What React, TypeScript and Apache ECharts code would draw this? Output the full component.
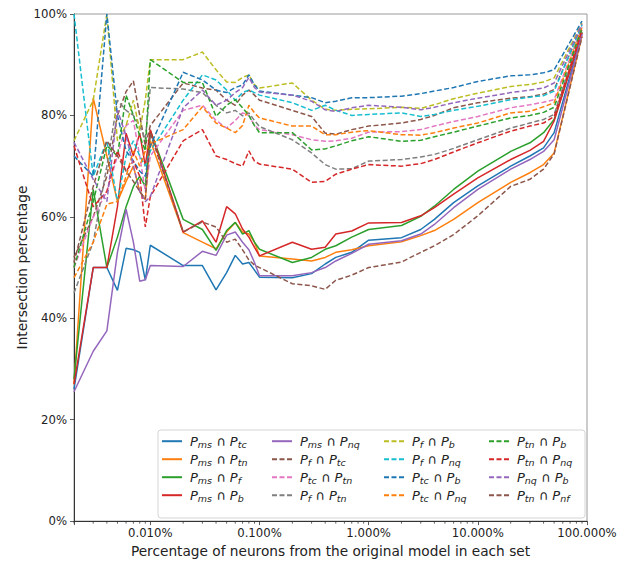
import React, { useEffect, useRef } from 'react';
import * as echarts from 'echarts';

// x positions (percent of neurons)
const X = [0.002, 0.003, 0.004, 0.005, 0.006, 0.007, 0.008, 0.009, 0.01, 0.02, 0.03, 0.04, 0.05, 0.06, 0.07, 0.08, 0.09, 0.1, 0.2, 0.3, 0.4, 0.5, 0.7, 1, 2, 3, 4, 6, 10, 20, 30, 40, 50, 90];

const MS_TC = [26, 50, 50, 45.5, 53.8, 53.5, 53, 47.5, 54.4, 50.4, 50.4, 45.6, 49, 52.4, 50.7, 51, 49.5, 48.1, 48, 48.8, 50.7, 52, 53, 55.4, 55.9, 57.5, 59.5, 62.8, 66.1, 70, 72, 73.6, 76.6, 96.2];
const MS_TN = [27, 83.4, 72, 63, 67, 70, 65, 63.4, 75, 56.9, 55, 53.7, 57, 58.9, 57, 56.6, 55, 52.3, 51.7, 51.3, 52, 53, 53.5, 54.3, 55.1, 56.3, 57.3, 59.5, 62.8, 66.8, 68.7, 70.3, 72.6, 95.7];
const MS_F = [28, 65.4, 50, 56, 62, 66, 68, 66, 77, 59.5, 57.5, 53.4, 57.3, 58.9, 56.6, 57.3, 55, 53.6, 51, 52, 53.6, 54.3, 56, 57.5, 58.3, 60.1, 62.1, 65.4, 69, 72.9, 74.6, 76.6, 79.2, 96.5];
const MS_B = [27, 50, 50, 62, 76.5, 72, 76.5, 70, 77.2, 57, 59.2, 55, 62, 60.6, 57.6, 56, 54, 52.3, 55, 53.6, 54, 56.6, 57.2, 58.8, 58.9, 60.2, 61.8, 64.5, 67.7, 71.3, 73.1, 74.9, 78.9, 96.3];
const MS_NQ = [25.5, 33.5, 37.5, 53, 61.5, 55, 47.3, 47.6, 50.4, 50.2, 53.2, 52.4, 56.4, 57, 55, 53.5, 51, 48.4, 48.4, 49, 50, 51.3, 52.8, 54.6, 55.3, 56.6, 58.5, 61.8, 65.4, 69.4, 71.3, 72.9, 75.2, 96];
const F_TC = [52, 60, 68, 80, 84.7, 86.8, 80, 74, 78, 86.4, 85.4, 85, 83, 82, 84, 85, 84, 83, 81, 79.8, 76.5, 76.3, 77.2, 77.9, 78.5, 79.2, 80, 81.5, 82.5, 83.4, 83.7, 84.2, 85.1, 97.6];
const TC_TN = [50, 60, 65, 72, 78, 79, 72, 65, 72, 81, 82, 79, 77.5, 79, 80.5, 80, 78, 77.2, 76.2, 75.2, 74.9, 75, 75.5, 76.7, 76.8, 77.2, 77.9, 78.8, 79.8, 81.5, 82.1, 82.6, 83.1, 97.5];
const F_TN = [45, 55, 70, 83, 81, 80, 78, 75.3, 85.5, 85.2, 84.5, 82, 80.5, 81, 79.9, 80.5, 79, 77.8, 75.2, 72.6, 70.3, 69.4, 69.5, 71, 71.3, 71.8, 72.3, 73.5, 75.2, 77.5, 78.5, 79.2, 80.2, 97];
const F_B = [75, 83, 100, 75, 78, 83, 77, 83, 91, 91, 92.5, 89, 86.6, 86.5, 87.5, 88, 86, 85.4, 86.4, 83, 81.2, 81, 81.2, 81.3, 81.6, 81.4, 82.1, 83.3, 84.4, 85.7, 86.1, 86.6, 87.4, 98.2];
const F_NQ = [100, 68, 75, 63, 72, 75, 72, 70, 73, 83, 88, 87, 85, 83, 84.5, 85, 84.5, 84, 82.5, 81, 82, 81, 80, 80.2, 80.5, 79.8, 80.2, 81, 81.8, 83.1, 83.6, 83.9, 84.8, 97.9];
const TC_B = [72, 68, 100, 80, 73, 71, 69, 68, 74, 88.5, 87, 85, 84.5, 85.5, 86, 88, 86, 84.8, 84, 83.5, 82.5, 82.8, 83.5, 83.5, 83.8, 84.3, 84.8, 85.5, 86.7, 87.8, 88, 88.4, 89, 98.6];
const TC_NQ = [48, 55, 62.5, 63, 68, 73, 70, 73, 74.4, 77.2, 81.7, 78.5, 77.5, 76.6, 78, 82, 80.5, 79.5, 77.9, 77.9, 76.2, 76.2, 76.7, 77, 76.2, 76.1, 76.6, 77.5, 78.5, 80.5, 80.8, 81.7, 82.5, 97.3];
const TN_B = [50, 63, 74, 72, 84, 80, 76, 73, 91, 86.5, 86.5, 79.8, 82, 83.1, 81.5, 80, 78, 76.6, 76.6, 73.2, 73.4, 74, 75, 75.8, 74.9, 75.1, 75.8, 76.7, 77.9, 79.5, 80, 80.6, 81.6, 97.2];
const TN_NQ = [74, 62, 65, 73, 69, 71, 68, 58, 64, 75, 77.2, 72, 71.3, 70.5, 70, 73, 71, 70.4, 69.4, 66.8, 67, 68.4, 69.4, 70.3, 70, 70.5, 71.3, 72.8, 74.6, 76.9, 77.9, 78.5, 79.8, 96.8];
const NQ_B = [74.7, 67.4, 63, 81, 76, 70, 65, 63, 64, 81.5, 85, 82, 83, 84.5, 85.5, 87.5, 85.5, 84.6, 84, 82.8, 81.1, 80.8, 81.5, 82, 81.6, 81.1, 81.6, 82.5, 83.4, 84.5, 85, 85.4, 86.4, 98];
const TN_NF = [51, 66, 75, 72, 69, 67, 65, 63.5, 76.5, 57, 59, 58, 55, 55.6, 53.5, 51.5, 50.5, 50, 46.8, 46.4, 45.7, 47.5, 48.5, 50, 51.1, 53, 54.3, 56.5, 60.2, 66, 67.4, 69.4, 72.4, 95.5];

const SUB_A = ['ms', 'ms', 'ms', 'ms', 'ms', 'f', 'tc', 'f', 'f', 'f', 'tc', 'tc', 'tn', 'tn', 'nq', 'tn'];
const SUB_B = ['tc', 'tn', 'f', 'b', 'nq', 'tc', 'tn', 'tn', 'b', 'nq', 'b', 'nq', 'b', 'nq', 'b', 'nf'];
const VALUES = [MS_TC, MS_TN, MS_F, MS_B, MS_NQ, F_TC, TC_TN, F_TN, F_B, F_NQ, TC_B, TC_NQ, TN_B, TN_NQ, NQ_B, TN_NF];
const COLORS = ['#1f77b4', '#ff7f0e', '#2ca02c', '#d62728', '#9467bd', '#8c564b', '#e377c2', '#7f7f7f', '#bcbd22', '#17becf', '#1f77b4', '#ff7f0e', '#2ca02c', '#d62728', '#9467bd', '#8c564b'];
const DASHED = [false, false, false, false, false, true, true, true, true, true, true, true, true, true, true, true];

const NAMES = SUB_A.map((a, i) => `P${a} ∩ P${SUB_B[i]}`);

const FONT = 'DejaVu Sans';

export default function App() {
  const ref = useRef<HTMLDivElement>(null);
  useEffect(() => {
    const chart = echarts.init(ref.current!, null, { renderer: 'svg' });

    const lineSeries = NAMES.map((name, i) => ({
      name,
      type: 'line',
      data: X.map((x, j) => [x, VALUES[i][j]]),
      symbol: 'none',
      showSymbol: false,
      z: 2 + i * 0.01,
      lineStyle: { color: COLORS[i], width: 1.5, type: DASHED[i] ? [5, 2.5] : 'solid' },
      itemStyle: { color: COLORS[i] },
      emphasis: { disabled: true },
    }));

    const minor: number[][] = [];
    for (let k = -3; k <= 1; k++) {
      for (let m = 2; m <= 9; m++) {
        const v = m * Math.pow(10, k);
        if (v >= 0.002 - 1e-12 && v <= 100) minor.push([v, 0]);
      }
    }

    const minorSeries = {
      type: 'custom',
      silent: true,
      clip: false,
      z: 10,
      data: minor,
      renderItem: (_p: any, api: any) => {
        const c = api.coord([api.value(0), 0]);
        return {
          type: 'line',
          shape: { x1: c[0], y1: c[1], x2: c[0], y2: c[1] + 2.5 },
          style: { stroke: '#333', lineWidth: 0.8 },
        };
      },
    };

    const richLegend = {
      p: { fontSize: 13, fontStyle: 'italic', fontFamily: FONT, color: '#222', lineHeight: 16 },
      p0: { fontSize: 13, fontStyle: 'italic', fontFamily: FONT, color: '#222', lineHeight: 16, padding: [0, 0, 0, 3] },
      s: { fontSize: 9.5, fontStyle: 'italic', fontFamily: FONT, color: '#222', lineHeight: 9, verticalAlign: 'bottom' },
      o: { fontSize: 13, fontFamily: FONT, color: '#222', lineHeight: 16 },
    };
    const colLeft = [161, 271, 383, 488];
    const legends = [0, 1, 2, 3].map((c) => ({
      orient: 'vertical',
      left: colLeft[c],
      top: 434,
      padding: 0,
      itemWidth: 20,
      itemHeight: 18,
      itemGap: 2.8,
      selectedMode: false,
      itemStyle: { color: 'rgba(0,0,0,0)', borderColor: 'rgba(0,0,0,0)', borderWidth: 0, opacity: 0 },
      data: NAMES.slice(c * 4, c * 4 + 4),
      formatter: (name: string) => {
        const i = NAMES.indexOf(name);
        return `{p0|P}{s|${SUB_A[i]}} {o|∩} {p|P}{s|${SUB_B[i]}}`;
      },
      textStyle: { fontFamily: FONT, fontSize: 13, color: '#222', rich: richLegend },
    }));

    chart.setOption({
      animation: false,
      backgroundColor: '#fff',
      textStyle: { fontFamily: FONT },
      grid: { left: 74, top: 14, width: 513, height: 509, show: true, borderColor: '#999', borderWidth: 1, backgroundColor: 'transparent' },
      legend: legends,
      graphic: [
        {
          type: 'rect',
          z: 3,
          shape: { x: 158, y: 430, width: 427, height: 88, r: 3 },
          style: { fill: 'rgba(255,255,255,0.8)', stroke: '#d5d5d5', lineWidth: 1 },
        },
      ],
      xAxis: {
        type: 'log',
        logBase: 10,
        min: 0.002,
        max: 100,
        name: 'Percentage of neurons from the original model in each set',
        nameLocation: 'middle',
        nameGap: 20,
        nameTextStyle: { fontFamily: FONT, fontSize: 13.7, color: '#222' },
        axisLine: { show: true, lineStyle: { color: '#333', width: 1 } },
        axisTick: { show: true, length: 4, lineStyle: { color: '#333', width: 0.8 } },
        axisLabel: {
          fontFamily: FONT,
          fontSize: 11.7,
          color: '#222',
          margin: 6,
          showMinLabel: true,
          showMaxLabel: true,
          formatter: (v: number) => {
            const l = Math.log10(v);
            if (Math.abs(l - Math.round(l)) > 1e-6) return '';
            return Math.pow(10, Math.round(l)).toFixed(3) + '%';
          },
        },
        splitLine: { show: false },
        minorTick: { show: false },
      },
      yAxis: {
        type: 'value',
        min: 0,
        max: 100,
        interval: 20,
        name: 'Intersection percentage',
        nameLocation: 'middle',
        nameGap: 45,
        nameMoveOverlap: false,
        nameTextStyle: { fontFamily: FONT, fontSize: 13.7, color: '#222' },
        axisLine: { show: true, lineStyle: { color: '#333', width: 1 } },
        axisTick: { show: true, length: 4, lineStyle: { color: '#333', width: 0.8 } },
        axisLabel: { fontFamily: FONT, fontSize: 11.7, color: '#222', margin: 7, formatter: '{value}%' },
        splitLine: { show: false },
      },
      series: [...lineSeries, minorSeries],
    });

    return () => chart.dispose();
  }, []);

  return <div ref={ref} style={{ position: 'fixed', left: 0, top: 0, width: 627, height: 563 }} />;
}
